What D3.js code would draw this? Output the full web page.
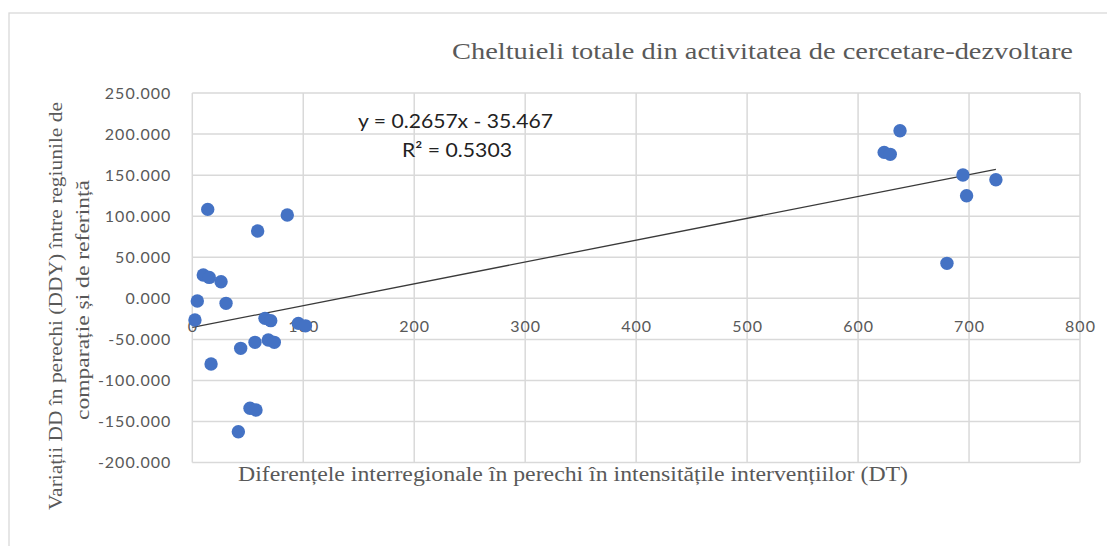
<!DOCTYPE html>
<html>
<head>
<meta charset="utf-8">
<script src="https://cdn.jsdelivr.net/npm/d3@7"></script>
<style>
  body { margin: 0; background: #fff; }
  svg { display: block; }
</style>
</head>
<body>
<svg width="1107" height="546"></svg>
<script>
// --- DATA ---
const dtValues = [13.9, 85.6, 58.9, 9.9, 15.3, 25.9, 4.5, 30.4, 2.4, 65.5, 70.7, 95.6, 102, 56.5,
  43.6, 68.5, 73.9, 16.9, 52, 57.4, 41.5, 637.8, 623.5, 629, 694.5, 724.2, 697.8, 680.1];
const ddyValues = [108.3, 101.4, 81.9, 28.4, 25.5, 20.2, -3.3, -6.1, -26.4, -24.4, -27.2, -30.5, -33.5, -53.6,
  -60.9, -50.8, -53.6, -80, -133.9, -136, -162.5, 204, 177.7, 175.3, 150.1, 144.4, 124.9, 42.6];
const xTicks = [0, 100, 200, 300, 400, 500, 600, 700, 800];
const yTicks = [-200, -150, -100, -50, 0, 50, 100, 150, 200, 250];
const slope = 0.2657;
const intercept = -35.467;

const titleText = "Cheltuieli totale din activitatea de cercetare-dezvoltare";
const xTitle = "Diferențele interregionale în perechi în intensitățile intervențiilor (DT)";
const yTitle1 = "Variații  DD în perechi (DDY) între regiunile  de";
const yTitle2 = "comparație și de referință";
const eqText = "y = 0.2657x - 35.467";
const r2Text = "R² = 0.5303";

const points = dtValues.map((x, i) => ({ x: x, y: ddyValues[i] }));

const svg = d3.select("svg");
const grey = "#595959";
const gridColor = "#d9d9d9";

const x = d3.scaleLinear().domain([0, 800]).range([192.3, 1080]);
const y = d3.scaleLinear().domain([-200, 250]).range([462.6, 93]);

const fmt = d3.formatLocale({ decimal: ".", thousands: ",", grouping: [3], currency: ["", ""], minus: "-" }).format(".3f");

// --- CHART FRAME ---
svg.append("rect")
  .attr("x", 9).attr("y", 13)
  .attr("width", 1120).attr("height", 560)
  .attr("fill", "#fff")
  .attr("stroke", gridColor)
  .attr("stroke-width", 1.3);

// --- GRIDLINES ---
svg.append("g").selectAll("line")
  .data(yTicks)
  .enter().append("line")
  .attr("x1", x(0)).attr("x2", x(800))
  .attr("y1", d => y(d)).attr("y2", d => y(d))
  .attr("stroke", gridColor).attr("stroke-width", 1.5);

svg.append("g").selectAll("line")
  .data(xTicks)
  .enter().append("line")
  .attr("x1", d => x(d)).attr("x2", d => x(d))
  .attr("y1", y(250)).attr("y2", y(-200))
  .attr("stroke", gridColor).attr("stroke-width", 1.5);

// --- AXES (labels only) ---
const yAxis = svg.append("g")
  .attr("transform", `translate(${x(0)},0)`)
  .call(d3.axisLeft(y).tickValues(yTicks).tickSize(0).tickPadding(21).tickFormat(fmt));

const xAxis = svg.append("g")
  .attr("transform", `translate(0,${y(0)})`)
  .call(d3.axisBottom(x).tickValues(xTicks).tickSize(0).tickPadding(22));

[yAxis, xAxis].forEach(a => {
  a.select(".domain").remove();
  a.selectAll("text")
    .attr("fill", grey)
    .style("font-family", "Lato, 'Open Sans', sans-serif")
    .style("font-size", "16px")
    .style("letter-spacing", "1px");
});

// --- TRENDLINE ---
const xMax = d3.max(dtValues);
svg.append("line")
  .attr("x1", x(0)).attr("y1", y(intercept))
  .attr("x2", x(xMax)).attr("y2", y(slope * xMax + intercept))
  .attr("stroke", "#3a3a3a")
  .attr("stroke-width", 1.3);

// --- POINTS ---
svg.append("g").selectAll("circle")
  .data(points)
  .enter().append("circle")
  .attr("cx", d => x(d.x))
  .attr("cy", d => y(d.y))
  .attr("r", 6.7)
  .attr("fill", "#4472C4");

// --- EQUATION ---
svg.append("text")
  .attr("x", 358).attr("y", 128)
  .attr("textLength", 195).attr("lengthAdjust", "spacingAndGlyphs")
  .attr("fill", "#222")
  .style("font-family", "Lato, sans-serif").style("font-size", "19px")
  .text(eqText);

svg.append("text")
  .attr("x", 402).attr("y", 157)
  .attr("textLength", 110).attr("lengthAdjust", "spacingAndGlyphs")
  .attr("fill", "#222")
  .style("font-family", "Lato, sans-serif").style("font-size", "19px")
  .text(r2Text);

// --- TITLES ---
const serif = "'Liberation Serif', 'Times New Roman', serif";

svg.append("text")
  .attr("x", 452).attr("y", 59)
  .attr("textLength", 621).attr("lengthAdjust", "spacingAndGlyphs")
  .attr("fill", grey)
  .style("font-family", serif).style("font-size", "24px")
  .text(titleText);

svg.append("text")
  .attr("x", 238).attr("y", 481)
  .attr("textLength", 670).attr("lengthAdjust", "spacingAndGlyphs")
  .attr("fill", grey)
  .style("font-family", serif).style("font-size", "20px")
  .text(xTitle);

svg.append("text")
  .attr("transform", "translate(61.5,306) rotate(-90)")
  .attr("x", -204).attr("y", 0)
  .attr("textLength", 408).attr("lengthAdjust", "spacingAndGlyphs")
  .attr("fill", grey)
  .style("font-family", serif).style("font-size", "19px")
  .text(yTitle1);

svg.append("text")
  .attr("transform", "translate(89,300) rotate(-90)")
  .attr("x", -120).attr("y", 0)
  .attr("textLength", 240).attr("lengthAdjust", "spacingAndGlyphs")
  .attr("fill", grey)
  .style("font-family", serif).style("font-size", "19px")
  .text(yTitle2);
</script>
</body>
</html>
